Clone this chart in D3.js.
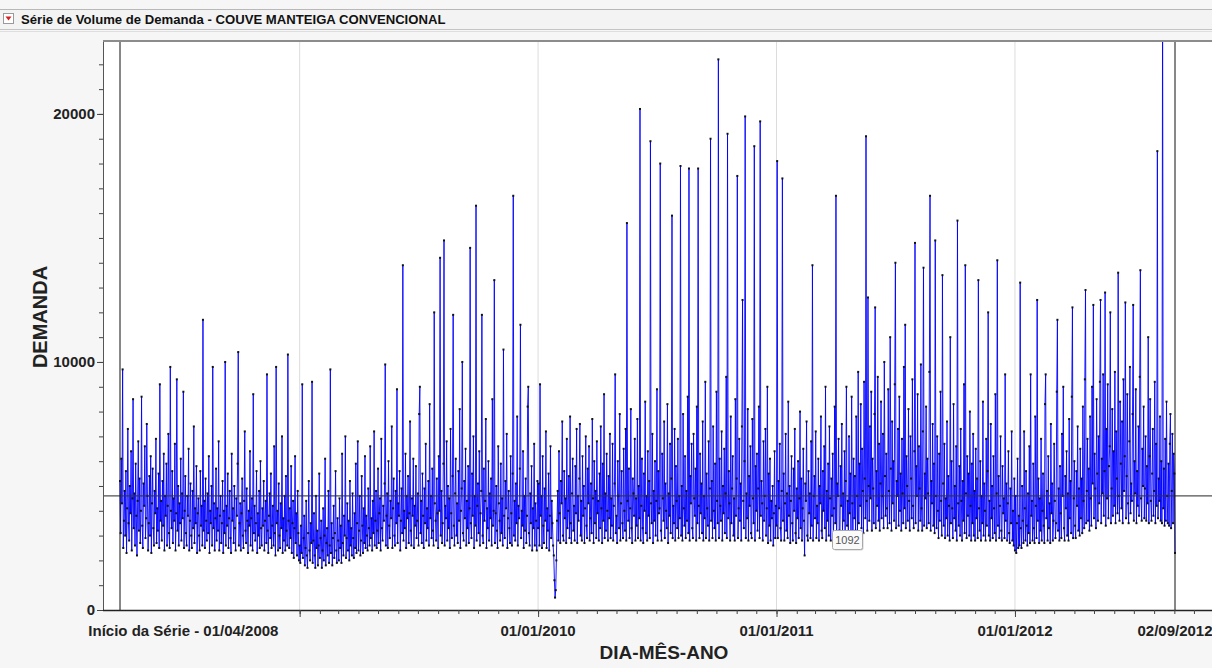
<!DOCTYPE html>
<html>
<head>
<meta charset="utf-8">
<script src="https://cdn.jsdelivr.net/npm/d3@7"></script>
<style>
body { margin: 0; background: #f6f6f6; }
svg { display: block; font-family: "Liberation Sans", Arial, sans-serif; }
</style>
</head>
<body>
<svg id="chart" width="1212" height="668"></svg>
<script>
// daily series, first value is 01/04/2008, last is 02/09/2012
var startDate = new Date(Date.UTC(2008, 3, 1));
var endDate = new Date(Date.UTC(2012, 8, 2));

var v2008 = [5200,3100,6100,4300,9700,2500,3600,4800,3000,5600,
2300,4100,7300,3500,2800,5000,3900,6400,2400,4500,
8500,3300,4700,2600,5900,3800,2200,4400,6800,3200,
5300,2700,4000,8600,3400,2500,5100,4200,6600,2900,
3700,7500,4600,2400,3500,5400,3000,6200,2300,4300,
5700,3300,2600,4800,3900,6900,2700,4100,3200,5500,
2500,9100,3600,4400,2800,5200,3400,6300,2400,4600,
3800,5900,2600,4200,7100,3100,2500,9800,4000,3300,
5600,2700,4500,3600,6700,2400,3900,9300,3200,5000,
2600,4300,3500,6100,2800,4700,3700,8800,2500,4000,
5400,3100,2600,4600,3800,6500,2400,3600,5100,3000,
2500,4800,3300,7400,2700,4100,3500,5800,2300,3900,
4500,3000,2400,5600,3400,4200,2600,11700,3200,4400,
2500,5300,3600,2800,4700,3100,6200,2300,4000,3500,
5000,2600,9800,3300,4300,2400,3700,5700,2800,4100,
3200,6800,2400,3800,4600,2700,3500,5200,2300,4000,
3100,10000,2600,4200,3400,5500,2500,3700,4800,2900,
2300,6300,3600,4100,2700,5000,3300,2400,4500,3800,
5900,10400,2600,3500,4300,2400,3900,5300,3000,2500,
4400,7200,3200,2700,4900,3600,2300,4000,3400,6400,
2600,3700,4500,2400,8700,3100,4200,2800,3500,5600,
2300,3900,3000,4800,2500,6000,3300,2600,4100,3400,
5200,2400,3600,4400,2700,9500,3200,2300,3800,4700,
2900,5500,2500,3400,4200,2600,6600,3100,2200,9800,
3500,4000,2400,5100,3000,2500,4300,3300,7000,2300,
3700,2800,4600,2400,5400,3200,2600,10300,3600,2500,
4100,2900,5800,2300,3500,4400,2100,3300,6200,2700,
3900,2200,4800,3100,2000];

var v2009 = [2600,1900,3400,2300,9100,2100,2900,3800,1800,2500,
4400,2200,1700,3100,5200,2400,2000,3500,2700,9200,
1900,2800,3900,2200,1700,4600,2500,3200,1800,2600,
5500,2100,2900,3600,1700,2400,4100,2000,3000,6100,
1800,2700,3300,2200,4800,1900,2600,9700,2300,3500,
1800,2900,4200,2100,3100,5600,2400,1900,3700,2800,
2000,4500,2500,3400,1900,6300,2700,2200,3800,3000,
7000,2100,2900,4300,2400,3600,2000,5200,2600,3300,
2200,4700,2900,2100,3900,2500,5900,2300,3500,6800,
2400,3200,4600,2200,2800,5400,3400,2300,4100,2700,
6200,2500,3800,3000,2400,4900,3300,2600,6600,2900,
3700,2400,4400,3100,7200,2600,3600,4800,2500,3200,
5700,2700,3900,4500,2400,6900,3300,2800,4200,3600,
5100,9900,2600,3800,4700,2500,6000,3400,2900,4400,
3700,7400,2500,4100,5300,3000,2600,4800,3500,8900,
2700,4300,3800,5600,2400,3600,4900,3100,13900,2800,
4000,3300,6300,2500,4600,3700,5400,2700,3900,7600,
3200,2600,4500,3800,6100,2500,4200,3400,5800,2900,
3600,4700,2600,7900,9000,3100,4400,2700,5500,3800,
2500,4900,3500,6700,2800,4100,3300,5200,2600,8300,
3700,4600,2900,5700,3200,2600,12000,4300,3600,2800,
5300,3900,2500,6200,4000,14200,3000,4800,2700,3500,
5900,14900,2600,4200,3700,6800,2800,5000,3300,4500,
2500,7300,3900,2900,5400,11900,3400,2600,4700,6100,
3000,4300,2700,5600,3600,8100,2500,4000,4900,10000,
3100,2800,5200,3700,6500,2600,4400,3300,5800,2700,
4100,14600,3500,2900,5500,3800,7000,2500,4600,3400,
16300,2800,4200,5100,3100,6400,2600,3900,4800,11900,
3000,2700,5700,3600,4400,7700,2500,4100,3300,6000,
2800,4700,3700,5300,2600,8500,3400,4000,13300,2700,
3900,5000,3200,2500,6600,4300,3600,2800,5900,3100,
4500,2600,10500,3800,2900,5200,4100,7100,2500,3700,
4800,3300,2700,6200,3900,2600,5500,16700,3000,4400,
2800,5100,3500,7800,2600,4200,3700,5700,11500,2900,
4000,3400,6400,2500,4600,3200,5300,2700,3800,8200,
9000,3100,2600,4700,3500,5800,2400,4100,3300,6700,
2600,4300,3600,2400,5200];

var v2010 = [3300,5100,2600,9100,3800,4600,2500,6200,3400,2700,
4900,3600,7200,2500,4100,3200,5500,2400,3800,6600,
2900,4400,3500,2600,2200,1200,500,800,2000,3600,
4800,2800,6400,3900,2700,5200,4300,7600,3000,2800,
5600,3700,4500,2700,6900,3300,4000,5400,2900,7800,
3500,2700,4700,6100,3200,4200,2800,5800,3900,7300,
2700,4600,3600,5300,7500,3000,4400,2800,6200,3800,
5000,2700,4100,7000,3400,2900,5700,4300,6600,2800,
3700,5100,3100,7700,4500,2700,6000,3500,4800,2900,
6800,3900,4400,2800,5500,3300,7400,4100,2700,5900,
3600,8700,2900,4700,3200,6300,4000,2800,5400,3700,
7100,2900,4500,3400,6700,2800,4200,5100,9500,3100,
3800,2700,6000,4600,3300,7900,2800,4300,5600,3500,
2900,6500,4000,3200,7300,2800,15600,4400,3600,5700,
2900,4100,8100,3300,2700,5300,4700,3800,6900,2800,
4500,3400,7700,2900,5000,3700,20200,2800,4200,6100,
3300,2700,5500,4000,8400,3100,4600,2800,6400,3800,
5200,2900,18900,4300,3500,7100,2700,4800,3600,6000,
3000,4400,8900,2800,5600,3900,4100,18000,3200,2800,
6300,4500,3600,7600,2900,5100,4000,3300,8300,2700,
4700,3800,6700,3100,5300,15900,2900,4200,3500,7300,
2800,5800,4400,3300,6900,2900,4600,3700,17900,3000,
5000,2800,7900,4100,3400,6200,2900,4800,3600,8600,
3100,17800,2800,5400,4300,6700,3300,2900,7100,4500,
3800,5700,2800,8200,3500,17800,4200,2900,6300,3900,
5100,3100,7600,2800,4600,3700,9200,2900,5500,4100,
3400,6800,2800,4900,19000,3600,5200,2900,7400,4000,
3300,5900,2800,8800,4400,3500,22200,2900,6100,4200,
3600,7200,2800,5000,3900,6500,3100,4700,9400,2900,
19200,3700,5600,4300,2800,7800,3500,4900,6200,3000,
4500,2800,8500,3800,5300,17500,2900,4100,6900,3600,
5100,2800,7400,12500,4400,3300,6000,19900,2900,4700,
3700,8100,2800,5400,4200,6600,3100,2900,7700,4500,
3500,18700,2800,5800,4000,6300,3200,4900,8200,2900,
19700,3800,5200,4300,2800,6800,3600,4600,7300,3000,
4100,9000,2700,5500,3400,6100,2800,4400,3700,5000,
2600,3900,6400,2900,4200];

var v2011 = [3400,18100,2900,5200,4100,6700,3300,2800,4800,17400,
3600,5500,2800,4300,7100,3200,4700,2900,8400,3800,
5000,2700,4400,6200,3500,2800,5700,4000,7300,3100,
2700,4900,3700,6000,2900,4500,8000,3300,5300,2800,
4100,6500,3600,2200,5100,4400,7600,3000,2800,5600,
3900,4700,2900,6800,3400,13900,2800,4600,5400,3700,
7200,2900,4200,3500,6100,2800,5000,4300,7800,3200,
2900,5600,4000,6600,3300,9000,2800,4800,3600,5900,
3000,7400,4500,2800,5300,3800,6300,2900,4100,8200,
3500,16700,2900,5100,4600,6900,3200,2800,5800,4200,
7500,3000,4700,3600,6400,2900,5200,9000,3400,4400,
2900,7000,3900,5500,3100,8600,4300,2900,6100,3700,
5400,3200,7800,4600,3100,9600,3500,5900,4200,8300,
3300,6500,4800,3100,9200,5300,3700,19100,4400,3200,
12600,5000,3600,7400,4500,8800,3200,6100,4900,3500,
7900,12200,3300,5600,4200,9400,3600,6700,3200,5100,
8400,3700,4600,7100,3300,10000,5400,3800,6300,4100,
3300,8900,4800,3500,11000,5700,3200,7600,4300,6000,
3600,9100,14000,3300,5200,4600,7300,3400,8600,4000,
5500,3200,6900,4700,3500,9800,4100,11500,3300,6200,
5000,3600,8100,4400,3200,7000,5300,3700,9300,4200,
3300,6400,14800,3500,5800,4600,8700,3200,6600,4900,
3600,9900,4100,3200,7200,13800,3400,5500,4500,8200,
3300,6100,4700,3500,9600,16700,3200,5200,4300,7500,
3400,5900,3100,14900,4600,3300,7000,4000,2900,6300,
3600,8800,4400,3000,13500,5100,3400,6700,2900,4500,
3700,7600,3000,5400,4200,2800,11000,3500,6000,4100,
2900,8300,3700,5000,3200,6600,2800,15700,4300,3400,
5800,3000,7300,4400,2800,5200,3600,9100,3100,13900,
4700,2900,6200,3800,5500,3000,8000,4200,2800,5900,
3500,7100,3000,4800,2800,6500,3700,5300,2900,13300,
4100,3200,6000,2800,4600,3500,8400,3000,5100,4000,
2800,6900,3400,5600,12000,3000,4400,2800,7500,3700,
5000,2900,6200,4100,3100,8700,2800,4700,14100,3400,
5400,2900,4200,7000,3200,2800,5800,3900,4500,2900,
9500,3600,5100,2800,4300,6400,3100,2700,4900,3500,
7200,2800,4000,2600,5300];

var v2012 = [2400,4600,2300,3500,6100,2500,3800,2600,13200,3300,
2500,5000,3600,2700,7200,4100,2800,5600,3400,2600,
4700,3100,6600,2700,9500,3800,4400,2800,5900,3300,
2700,7800,4200,2900,12500,3600,5300,2700,4500,3200,
6900,2800,4000,5500,3400,2700,8300,9500,3700,4800,
2800,6200,3300,4300,2700,7500,3900,5100,2800,3600,
6700,4400,2900,3500,8800,11700,3200,4900,2800,5800,
3900,2900,7100,4600,9000,3300,2800,5400,4100,6400,
3000,4700,2800,7700,3700,5200,3100,8600,12200,2900,
4500,6000,3400,2900,5600,4200,7400,3200,4900,3000,
6500,3700,5300,3100,8200,4400,3300,9300,12900,3500,
4800,6900,3600,5700,3200,7800,4500,3400,9000,5100,
12300,3700,6300,4900,3300,8500,5500,3600,7000,4300,
9200,12500,3500,6100,4700,9500,3800,5600,12800,3400,
7300,4500,9100,3700,5800,6600,12000,3500,4900,8100,
3800,6400,4200,9600,3500,7200,5300,3900,13600,4600,
3600,8400,5900,4100,7600,3500,9300,4800,6200,12400,
3700,5400,8700,4300,3500,6800,9800,3900,5100,4400,
7900,12300,3600,6000,4700,8900,3500,5600,4200,7400,
3800,9400,13700,4500,3600,6500,5000,8200,3700,4900,
7000,3600,5800,4300,11000,3500,6200,8500,4400,3600,
5500,7300,3800,4800,9200,3500,6700,4200,18500,3700,
5300,4400,7800,3600,6000,3500,25000,4100,5700,3400,
6900,3600,8400,4600,3500,5900,3400,6700,7900,3300,
4800,7100,3500,6300,5500,2300];

// reference values
var meanValue = 4600;
var yMax = 22900;
var yMajorTicks = [0, 10000, 20000];
var yearLines = [new Date(Date.UTC(2009, 0, 1)), new Date(Date.UTC(2010, 0, 1)),
                 new Date(Date.UTC(2011, 0, 1)), new Date(Date.UTC(2012, 0, 1))];
var dateLabels = ["Início da Série - 01/04/2008", "01/01/2010", "01/01/2011", "01/01/2012", "02/09/2012"];
var dateLabelDates = [new Date(Date.UTC(2008, 6, 7)), new Date(Date.UTC(2010, 0, 1)),
                      new Date(Date.UTC(2011, 0, 1)), new Date(Date.UTC(2012, 0, 1)), endDate];
var titleText = "Série de Volume de Demanda - COUVE MANTEIGA CONVENCIONAL";
var tooltipText = "1092";

var values = v2008.concat(v2009, v2010, v2011, v2012);
var data = values.map(function (v, i) {
    return {date: d3.utcDay.offset(startDate, i), value: v};
});

var W = 1212, H = 668,
    plotLeft = 103, plotTop = 42, plotBottom = 610, plotRight = 1212;

var svg = d3.select("#chart");

// window title strip
svg.append("rect").attr("x", 0).attr("y", 0).attr("width", W).attr("height", H).attr("fill", "#f6f6f6");
svg.append("rect").attr("x", 0).attr("y", 9).attr("width", W).attr("height", 1).attr("fill", "#b8b8b8");
svg.append("rect").attr("x", 0).attr("y", 10).attr("width", W).attr("height", 19).attr("fill", "#f3f3f3");
svg.append("rect").attr("x", 0).attr("y", 29).attr("width", W).attr("height", 1).attr("fill", "#c4c4c4");
svg.append("rect").attr("x", 0).attr("y", 31).attr("width", W).attr("height", 1).attr("fill", "#dedede");
svg.append("rect").attr("x", 3.5).attr("y", 13.5).attr("width", 10).attr("height", 10)
    .attr("fill", "#fff").attr("stroke", "#9a9a9a");
svg.append("path").attr("d", "M5.5,16.5 L11.5,16.5 L8.5,20.5 Z").attr("fill", "#d81e1e");
var title = svg.append("text")
    .attr("x", 21).attr("y", 23.5)
    .attr("font-size", 13).attr("font-weight", "bold").attr("fill", "#111")
    .text(titleText);
var tw = title.node().getComputedTextLength();
title.attr("font-size", 13 * 425 / tw);

// plot background
svg.append("rect").attr("x", plotLeft).attr("y", plotTop)
    .attr("width", plotRight - plotLeft).attr("height", plotBottom - plotTop).attr("fill", "#fff");

var x = d3.scaleUtc().domain([startDate, endDate]).range([120, 1175]);
var y = d3.scaleLinear().domain([0, yMax]).range([plotBottom, plotTop]);

svg.append("defs").append("clipPath").attr("id", "clip")
    .append("rect").attr("x", plotLeft).attr("y", plotTop)
    .attr("width", plotRight - plotLeft).attr("height", plotBottom - plotTop);

// year grid lines
svg.selectAll(".grid").data(yearLines).enter().append("line")
    .attr("x1", function (d) { return x(d); }).attr("x2", function (d) { return x(d); })
    .attr("y1", plotTop).attr("y2", plotBottom)
    .attr("stroke", "#dcdcdc").attr("stroke-width", 1);

var g = svg.append("g").attr("clip-path", "url(#clip)");

var line = d3.line()
    .x(function (d) { return x(d.date); })
    .y(function (d) { return y(d.value); });

g.append("path").datum(data)
    .attr("d", line)
    .attr("fill", "none")
    .attr("stroke", "#0000ff")
    .attr("stroke-opacity", 0.9)
    .attr("stroke-width", 1);

g.selectAll(".pt").data(data).enter().append("rect")
    .attr("x", function (d) { return x(d.date) - 1; })
    .attr("y", function (d) { return y(d.value) - 1; })
    .attr("width", 2).attr("height", 2)
    .attr("fill", "#111");

// mean line
g.append("line")
    .attr("x1", plotLeft).attr("x2", plotRight)
    .attr("y1", y(meanValue)).attr("y2", y(meanValue))
    .attr("stroke", "#333").attr("stroke-opacity", 0.85).attr("stroke-width", 1.2);

// start and end markers
svg.selectAll(".mark").data([startDate, endDate]).enter().append("line")
    .attr("x1", function (d) { return x(d); }).attr("x2", function (d) { return x(d); })
    .attr("y1", plotTop).attr("y2", plotBottom)
    .attr("stroke", "#111").attr("stroke-width", 1);

// top border
svg.append("rect").attr("x", plotLeft).attr("y", plotTop - 2)
    .attr("width", plotRight - plotLeft).attr("height", 2).attr("fill", "#8c8c8c");

// y axis
var yMinor = svg.append("g").attr("transform", "translate(" + plotLeft + ",0)")
    .call(d3.axisLeft(y).tickValues(d3.range(0, yMax, 1000)).tickSize(4).tickFormat(""));
var yAxis = svg.append("g").attr("transform", "translate(" + plotLeft + ",0)")
    .call(d3.axisLeft(y).tickValues(yMajorTicks).tickSize(6).tickPadding(2).tickFormat(d3.format("d")));
yMinor.select(".domain").remove();
yAxis.select(".domain").attr("d", "M0.5," + plotTop + "V" + plotBottom).attr("stroke", "#555");
svg.selectAll("g .tick line").attr("stroke", "#555");
yAxis.selectAll("text")
    .attr("font-family", "Liberation Sans, Arial, sans-serif")
    .attr("font-size", 15).attr("font-weight", "bold").attr("fill", "#222");

// x axis: monthly minor ticks, yearly major ticks
var monthTicks = d3.utcMonth.range(new Date(Date.UTC(2009, 0, 1)), new Date(Date.UTC(2012, 11, 1)));
var xMinor = svg.append("g").attr("transform", "translate(0," + plotBottom + ")")
    .call(d3.axisBottom(x).tickValues(monthTicks).tickSize(4).tickFormat(""));
var xMajor = svg.append("g").attr("transform", "translate(0," + plotBottom + ")")
    .call(d3.axisBottom(x).tickValues(yearLines).tickSize(7).tickFormat(""));
xMajor.select(".domain").remove();
xMinor.select(".domain").attr("d", "M" + plotLeft + ",0.5H" + plotRight).attr("stroke", "#222").attr("stroke-width", 1.5);
svg.selectAll("g .tick line").attr("stroke", "#444");

svg.selectAll(".xlab").data(dateLabels).enter().append("text")
    .attr("x", function (d, i) { return x(dateLabelDates[i]); })
    .attr("y", 636)
    .attr("text-anchor", "middle")
    .attr("font-size", 15).attr("font-weight", "bold").attr("fill", "#222")
    .text(function (d) { return d; });

// axis titles
svg.append("text")
    .attr("x", 664).attr("y", 659)
    .attr("text-anchor", "middle")
    .attr("font-size", 19).attr("font-weight", "bold").attr("fill", "#222")
    .text("DIA-MÊS-ANO");
svg.append("text")
    .attr("transform", "translate(47,317) rotate(-90)")
    .attr("text-anchor", "middle")
    .attr("font-size", 20).attr("font-weight", "bold").attr("fill", "#222")
    .text("DEMANDA");

// hover tooltip
var tip = svg.append("g").attr("transform", "translate(832,530)");
tip.append("rect").attr("x", 1.5).attr("y", 1.5).attr("width", 30).attr("height", 19).attr("rx", 2)
    .attr("fill", "#cfcfcf");
tip.append("rect").attr("x", 0.5).attr("y", 0.5).attr("width", 30).attr("height", 19).attr("rx", 2)
    .attr("fill", "#fafafa").attr("stroke", "#a8a8a8");
tip.append("text").attr("x", 15.5).attr("y", 14)
    .attr("text-anchor", "middle").attr("font-size", 11).attr("fill", "#555")
    .text(tooltipText);
</script>
</body>
</html>
